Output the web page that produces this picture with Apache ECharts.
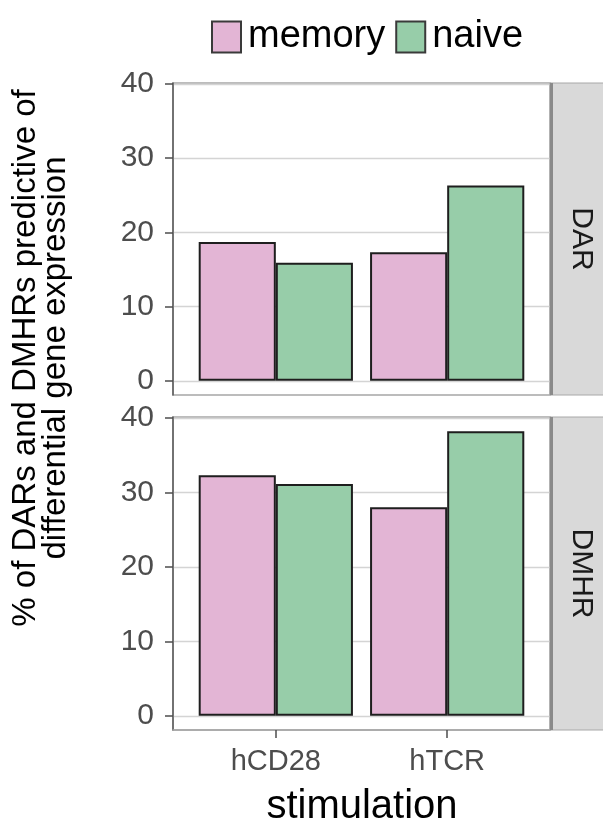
<!DOCTYPE html>
<html>
<head>
<meta charset="utf-8">
<script src="https://cdn.jsdelivr.net/npm/echarts@6/dist/echarts.min.js"></script>
<style>
  html, body { margin: 0; padding: 0; background: #ffffff; }
  #chart { width: 603px; height: 825px; }
</style>
</head>
<body>
<div id="chart"></div>
<script>
// ---- data ----
const categories = ['hCD28', 'hTCR'];
const panels = ['DAR', 'DMHR'];
const groups = ['memory', 'naive'];
const memoryDAR = [18.7, 17.3];
const naiveDAR = [15.9, 26.3];
const memoryDMHR = [32.3, 28.0];
const naiveDMHR = [31.1, 38.2];
const yTicks = [0, 10, 20, 30, 40];
const xTitle = 'stimulation';
const yTitle = '% of DARs and DMHRs predictive of\ndifferential gene expression';

// ---- styling ----
const FONT = 'Liberation Sans, Arial, Helvetica, sans-serif';
const colors = { memory: '#E3B5D5', naive: '#97CDA9' };
const yMin = -1.91, yMax = 40.11;   // ggplot-style 5% expansion of data range
const xMin = 0.4, xMax = 2.6;       // ggplot-style discrete expansion
const xPos = categories.map((c, i) => i + 1);

const grids = [
  { left: 173, top: 83, width: 377, height: 312 },
  { left: 173, top: 417, width: 377, height: 313 }
];

function toXY(vals) { return vals.map((v, i) => [xPos[i], v]); }

const chart = echarts.init(document.getElementById('chart'), null, { renderer: 'canvas' });

const xAxes = grids.map((g, i) => ({
  type: 'value', gridIndex: i, min: xMin, max: xMax,
  axisLine: { show: i === 1, onZero: false, lineStyle: { color: '#a6a6a6', width: 1.5 } },
  axisTick: { show: i === 1, customValues: xPos, length: 8, lineStyle: { color: '#4d4d4d', width: 1.5 } },
  axisLabel: {
    show: i === 1, customValues: xPos, margin: 17,
    fontFamily: FONT, fontSize: 29, color: '#4d4d4d',
    formatter: v => categories[Math.round(v) - 1] || ''
  },
  splitLine: { show: false }
}));

const yAxes = grids.map((g, i) => ({
  type: 'value', gridIndex: i, min: yMin, max: yMax,
  axisLine: { show: true, onZero: false, lineStyle: { color: '#5a5a5a', width: 1.5 } },
  axisTick: { show: true, customValues: yTicks, length: 8, lineStyle: { color: '#4d4d4d', width: 1.5 } },
  axisLabel: {
    show: true, customValues: yTicks, margin: 19,
    fontFamily: FONT, fontSize: 30, color: '#4d4d4d'
  },
  splitLine: { show: true, lineStyle: { color: '#d4d4d4', width: 1.3 } }
}));

const barBorder = { borderColor: '#1e1e1e', borderWidth: 2 };
const barCommon = { type: 'bar', barWidth: '45%', barGap: '0%' };

const series = [
  Object.assign({}, barCommon, { name: 'memory', xAxisIndex: 0, yAxisIndex: 0, data: toXY(memoryDAR), itemStyle: Object.assign({ color: colors.memory }, barBorder) }),
  Object.assign({}, barCommon, { name: 'naive', xAxisIndex: 0, yAxisIndex: 0, data: toXY(naiveDAR), itemStyle: Object.assign({ color: colors.naive }, barBorder) }),
  Object.assign({}, barCommon, { name: 'memory', xAxisIndex: 1, yAxisIndex: 1, data: toXY(memoryDMHR), itemStyle: Object.assign({ color: colors.memory }, barBorder) }),
  Object.assign({}, barCommon, { name: 'naive', xAxisIndex: 1, yAxisIndex: 1, data: toXY(naiveDMHR), itemStyle: Object.assign({ color: colors.naive }, barBorder) })
];

// facet strips
const stripGraphics = [];
grids.forEach((g, i) => {
  const x0 = g.left + g.width;
  stripGraphics.push({
    type: 'rect', z: 10,
    shape: { x: x0, y: g.top, width: 603 - x0 + 2, height: g.height },
    style: { fill: '#d9d9d9', stroke: '#a8a8a8', lineWidth: 1 }
  });
  stripGraphics.push({
    type: 'line', z: 11,
    shape: { x1: x0 + 1.5, y1: g.top, x2: x0 + 1.5, y2: g.top + g.height },
    style: { stroke: '#8a8a8a', lineWidth: 3 }
  });
  stripGraphics.push({
    type: 'text', z: 12,
    x: x0 + 31, y: g.top + g.height / 2, rotation: -Math.PI / 2,
    style: {
      text: panels[i], fontFamily: FONT, fontSize: 30, fill: '#1a1a1a',
      textAlign: 'center', textVerticalAlign: 'middle'
    }
  });
});

const option = {
  backgroundColor: '#ffffff',
  animation: false,
  legend: {
    data: groups, left: 206, top: 13, orient: 'horizontal',
    itemWidth: 29, itemHeight: 31, itemGap: 10, icon: 'rect',
    itemStyle: { borderColor: '#3a3a3a', borderWidth: 2 },
    textStyle: { fontFamily: FONT, fontSize: 38, color: '#000000', padding: [0, 0, 0, 2] },
    selectedMode: false
  },
  grid: grids.map(g => Object.assign({ show: true, borderColor: '#a6a6a6', borderWidth: 1.5, backgroundColor: '#ffffff' }, g)),
  xAxis: xAxes,
  yAxis: yAxes,
  series: series,
  graphic: stripGraphics.concat([
    {
      type: 'text', x: 41, y: 358, rotation: Math.PI / 2,
      style: {
        text: yTitle, fontFamily: FONT, fontSize: 33, lineHeight: 30, fill: '#000000',
        textAlign: 'center', textVerticalAlign: 'middle'
      }
    },
    {
      type: 'text', x: 362, y: 807,
      style: {
        text: xTitle, fontFamily: FONT, fontSize: 40, fill: '#000000',
        textAlign: 'center', textVerticalAlign: 'middle'
      }
    }
  ])
};

chart.setOption(option);
</script>
</body>
</html>
